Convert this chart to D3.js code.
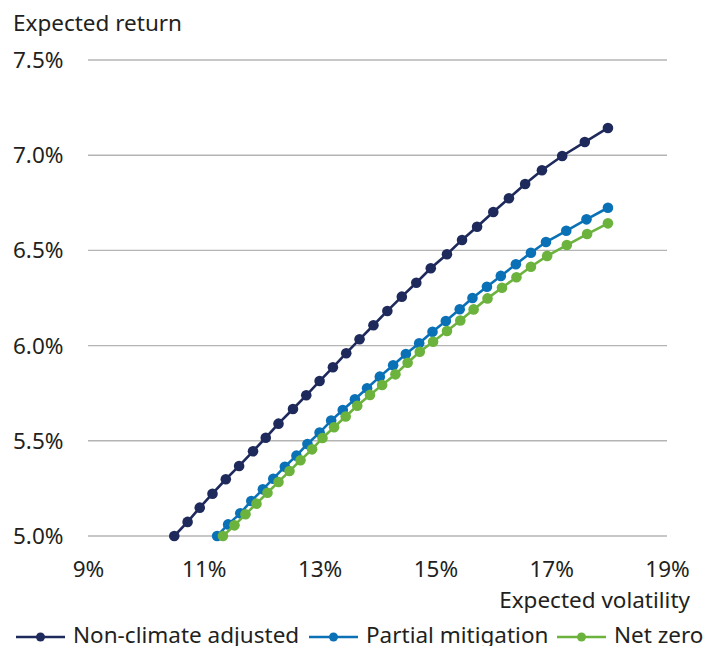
<!DOCTYPE html>
<html>
<head>
<meta charset="utf-8">
<script src="https://cdn.jsdelivr.net/npm/d3@7"></script>
<style>
  html, body { margin: 0; padding: 0; background: #fff; }
  svg { display: block; }
  text { font-family: "Noto Sans", "Open Sans", sans-serif; fill: #231f20; }
</style>
</head>
<body>
<svg id="chart" width="703" height="646"></svg>
<script>
// Efficient frontier under three climate scenarios: expected volatility (%) vs expected return (%)
const seriesNames = ["Non-climate adjusted", "Partial mitigation", "Net zero"];
const seriesColors = ["#1f2a5c", "#0a71b6", "#6cb33e"];

const nonClimateVol = [10.49, 10.72, 10.93, 11.15, 11.38, 11.61, 11.85, 12.07, 12.29, 12.54,
  12.77, 13.00, 13.23, 13.46, 13.69, 13.93, 14.17, 14.42, 14.67, 14.92,
  15.20, 15.46, 15.72, 16.00, 16.27, 16.55, 16.84, 17.19, 17.58, 17.98];
const nonClimateRet = [5.000, 5.074, 5.149, 5.222, 5.298, 5.368, 5.445, 5.516, 5.590, 5.667,
  5.739, 5.814, 5.886, 5.960, 6.033, 6.107, 6.182, 6.257, 6.330, 6.406,
  6.480, 6.555, 6.624, 6.702, 6.774, 6.849, 6.921, 6.996, 7.069, 7.143];

const partialVol = [11.23, 11.42, 11.63, 11.82, 12.02, 12.20, 12.40, 12.60, 12.79, 13.00,
  13.20, 13.40, 13.61, 13.82, 14.04, 14.27, 14.49, 14.72, 14.95, 15.18,
  15.42, 15.64, 15.89, 16.13, 16.39, 16.65, 16.91, 17.26, 17.61, 17.98];
const partialRet = [5.000, 5.061, 5.119, 5.184, 5.245, 5.301, 5.364, 5.422, 5.483, 5.543,
  5.606, 5.662, 5.718, 5.776, 5.837, 5.897, 5.956, 6.012, 6.073, 6.129,
  6.191, 6.250, 6.309, 6.366, 6.427, 6.488, 6.544, 6.603, 6.663, 6.724];

const netZeroVol = [11.33, 11.53, 11.72, 11.91, 12.10, 12.29, 12.48, 12.67, 12.87, 13.05,
  13.25, 13.45, 13.65, 13.87, 14.08, 14.31, 14.52, 14.73, 14.96, 15.20,
  15.43, 15.66, 15.90, 16.15, 16.40, 16.65, 16.93, 17.27, 17.62, 17.98];
const netZeroRet = [5.000, 5.056, 5.114, 5.170, 5.227, 5.284, 5.341, 5.398, 5.455, 5.515,
  5.571, 5.628, 5.684, 5.741, 5.793, 5.849, 5.910, 5.968, 6.020, 6.077,
  6.132, 6.190, 6.248, 6.304, 6.359, 6.414, 6.471, 6.528, 6.586, 6.642];

const xTicks = [9, 11, 13, 15, 17, 19];
const yTicks = [5.0, 5.5, 6.0, 6.5, 7.0, 7.5];

const xTitle = "Expected volatility";
const yTitle = "Expected return";

const series = [
  { name: seriesNames[0], color: seriesColors[0], vol: nonClimateVol, ret: nonClimateRet },
  { name: seriesNames[1], color: seriesColors[1], vol: partialVol, ret: partialRet },
  { name: seriesNames[2], color: seriesColors[2], vol: netZeroVol, ret: netZeroRet }
];

const fontSize = "22.5px";
const svg = d3.select("#chart");
const plot = { left: 88, right: 667, top: 60, bottom: 536 };

const x = d3.scaleLinear().domain([9, 19]).range([plot.left, plot.right]);
const y = d3.scaleLinear().domain([5.0, 7.5]).range([plot.bottom, plot.top]);

// Horizontal gridlines
svg.append("g")
  .selectAll("line")
  .data(yTicks)
  .join("line")
  .attr("x1", plot.left)
  .attr("x2", plot.right)
  .attr("y1", d => y(d))
  .attr("y2", d => y(d))
  .attr("stroke", "#b4b4b4")
  .attr("stroke-width", 1.4);

// Y axis labels
const yAxis = d3.axisLeft(y).tickValues(yTicks).tickFormat(d => d3.format(".1f")(d) + "%").tickSize(0).tickPadding(0);
const gy = svg.append("g").attr("transform", `translate(13,0)`).call(yAxis);
gy.select(".domain").remove();
gy.selectAll("text")
  .attr("text-anchor", "start")
  .attr("x", 0)
  .attr("dy", "0.33em")
  .style("font-size", fontSize)
  .style("font-family", "'Noto Sans', sans-serif")
  .attr("fill", "#231f20");

// X axis labels
const xAxis = d3.axisBottom(x).tickValues(xTicks).tickFormat(d => d + "%").tickSize(0).tickPadding(0);
const gx = svg.append("g").attr("transform", `translate(0,577)`).call(xAxis);
gx.select(".domain").remove();
gx.selectAll("text")
  .attr("y", 0)
  .attr("dy", "0")
  .style("font-size", fontSize)
  .style("font-family", "'Noto Sans', sans-serif")
  .attr("fill", "#231f20");

// Axis titles
svg.append("text")
  .attr("x", 13)
  .attr("y", 31)
  .style("font-size", fontSize)
  .text(yTitle);

svg.append("text")
  .attr("x", 690)
  .attr("y", 608)
  .attr("text-anchor", "end")
  .style("font-size", fontSize)
  .text(xTitle);

// Lines and markers
const line = d3.line().x(d => x(d[0])).y(d => y(d[1]));

series.forEach(s => {
  const pts = s.vol.map((v, i) => [v, s.ret[i]]);
  const g = svg.append("g");
  g.append("path")
    .datum(pts)
    .attr("d", line)
    .attr("fill", "none")
    .attr("stroke", s.color)
    .attr("stroke-width", 2.6);
  g.selectAll("circle")
    .data(pts)
    .join("circle")
    .attr("cx", d => x(d[0]))
    .attr("cy", d => y(d[1]))
    .attr("r", 5.3)
    .attr("fill", s.color);
});

// Legend
const legendY = 637;
const legendX = [16, 309, 557];
series.forEach((s, i) => {
  const g = svg.append("g").attr("transform", `translate(${legendX[i]},${legendY})`);
  g.append("line")
    .attr("x1", 0).attr("x2", 49)
    .attr("y1", 0).attr("y2", 0)
    .attr("stroke", s.color)
    .attr("stroke-width", 2.6);
  g.append("circle")
    .attr("cx", 24.5).attr("cy", 0).attr("r", 4.5)
    .attr("fill", s.color);
  g.append("text")
    .attr("x", 57)
    .attr("y", 6)
    .style("font-size", fontSize)
    .text(s.name);
});
</script>
</body>
</html>
